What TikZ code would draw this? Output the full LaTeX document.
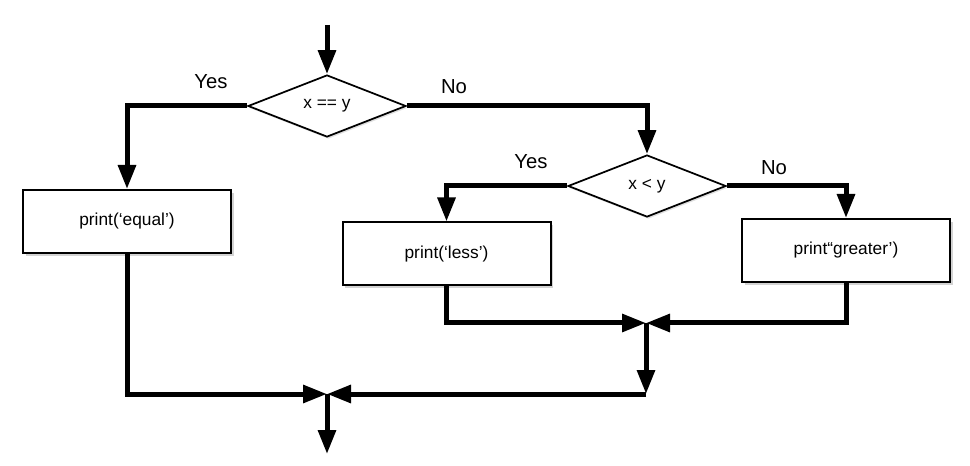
\documentclass[tikz,border=0pt]{standalone}
\usepackage{fontspec}
\setmainfont{Liberation Sans}
\usetikzlibrary{arrows.meta,shapes.geometric,shadows}

\begin{document}
\begin{tikzpicture}[x=0.75pt,y=-0.75pt,
    flow/.style={line width=3.75pt,-{Triangle[length=18pt,width=13pt]}},
    test/.style={diamond,draw,line width=1.3pt,fill=white,inner sep=0pt,
                 minimum width=118.5pt,minimum height=46.5pt,
                 font=\fontsize{13}{15}\selectfont,
                 drop shadow={shadow xshift=1pt,shadow yshift=-1.5pt,opacity=0.25}},
    act/.style={rectangle,draw,line width=1.5pt,fill=white,
                minimum width=156pt,minimum height=47.25pt,
                font=\fontsize{13}{15}\selectfont,
                drop shadow={shadow xshift=2pt,shadow yshift=-2pt,opacity=0.35}},
    lbl/.style={font=\fontsize{15.2}{18}\selectfont}]

          \useasboundingbox (0,0) rectangle (970,466);

          \node[test]  (eq)      at (327,106)   {x == y};
          \node[test]  (lt)      at (647,186)   {x < y};
          \node[act]   (equal)   at (127,221.5) {print(‘equal’)};
          \node[act]   (less)    at (446.5,254) {print(‘less’)};
          \node[act]   (greater) at (846,250.5) {print“greater’)};

          \node[lbl]   (yes1) at (211,82)  {Yes};
          \node[lbl]   (no1)  at (454,87)  {No};
          \node[lbl]   (yes2) at (531,162) {Yes};
          \node[lbl]   (no2)  at (774,168) {No};

          \coordinate  (start) at (327,25);
          \coordinate  (join1) at (646,323);
          \coordinate  (bend)  at (646,394);
          \coordinate  (join2) at (327,394);
          \coordinate  (stop)  at (327,454);

          \draw[flow] (start) -- (eq.north);
          \draw[flow] (eq.west) -| (equal.north);
          \draw[flow] (eq.east) -| (lt.north);
          \draw[flow] (lt.west) -| (less.north);
          \draw[flow] (lt.east) -| (greater.north);
          \draw[flow] (less.south) |- (join1);
          \draw[flow] (greater.south) |- (join1);
          \draw[flow] (join1) -- (bend);
          \draw[flow] (bend) -- (join2);
          \draw[flow] (equal.south) |- (join2);
          \draw[flow] (join2) -- (stop);
        \end{tikzpicture}
\end{document}
